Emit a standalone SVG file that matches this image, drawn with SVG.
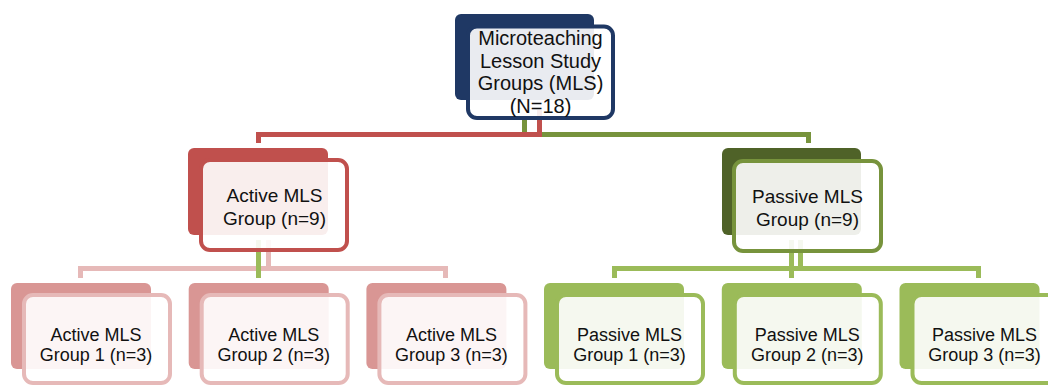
<svg xmlns="http://www.w3.org/2000/svg" width="1048" height="385" viewBox="0 0 1048 385">
<style>
.front{fill:#fff;fill-opacity:.9;stroke-width:4}
.conn path{fill:none;stroke-width:5}
text{font-family:"Liberation Sans",Arial,sans-serif;fill:#111;text-anchor:middle}
.t0{font-size:20px}
.t1{font-size:19px}
.t3{font-size:18px}
</style>
<rect width="1048" height="385" fill="#fff"/>
<g id="connectors" class="conn">
  <path d="M524.5 117V134.5H808.5V143" stroke="#77933c"/>
  <path d="M539.5 110V134.5H258.5V143" stroke="#c0504d"/>
  <path d="M80.5 278V268.5H445.5V278M268.5 240V268.5" stroke="#e6b9b8"/>
  <path d="M258.5 240V278" stroke="#9bbb59"/>
  <path d="M614.5 278V268.5H978.5V278M800.5 240V268.5M791.5 240V278" stroke="#9bbb59"/>
</g>
<g id="mls">
  <rect x="455" y="14" width="139" height="86" rx="6" fill="#1f3864"/>
  <rect class="front" x="468" y="26.5" width="145" height="91.5" rx="9" stroke="#1f3864"/>
  <text class="t0"><tspan x="540.5" y="45">Microteaching</tspan><tspan x="540.5" y="67.7">Lesson Study</tspan><tspan x="540.5" y="90.3">Groups (MLS)</tspan><tspan x="540.5" y="113">(N=18)</tspan></text>
</g>
<g id="active">
  <rect x="188" y="148" width="140" height="87" rx="6" fill="#c0504d"/>
  <rect class="front" x="201" y="160" width="146" height="90" rx="9" stroke="#c0504d"/>
  <text class="t1"><tspan x="274.5" y="202">Active MLS</tspan><tspan x="274.5" y="224.5">Group (n=9)</tspan></text>
</g>
<g id="passive">
  <rect x="722" y="148" width="139" height="87" rx="6" fill="#4f6228"/>
  <rect class="front" x="734" y="161" width="147" height="90" rx="9" stroke="#77933c"/>
  <text class="t1"><tspan x="807.5" y="203">Passive MLS</tspan><tspan x="807.5" y="225.5">Group (n=9)</tspan></text>
</g>
<g id="active1">
  <rect x="11" y="283" width="140" height="86" rx="6" fill="#d99694"/>
  <rect class="front" x="24" y="295" width="146" height="88" rx="9" stroke="#e6b9b8"/>
  <text class="t3"><tspan x="96" y="340.5">Active MLS</tspan><tspan x="96" y="361.2">Group 1 (n=3)</tspan></text>
</g>
<g id="active2">
  <rect x="188.7" y="283" width="140" height="86" rx="6" fill="#d99694"/>
  <rect class="front" x="201.7" y="295" width="146" height="88" rx="9" stroke="#e6b9b8"/>
  <text class="t3"><tspan x="273.7" y="340.5">Active MLS</tspan><tspan x="273.7" y="361.2">Group 2 (n=3)</tspan></text>
</g>
<g id="active3">
  <rect x="366.4" y="283" width="140" height="86" rx="6" fill="#d99694"/>
  <rect class="front" x="379.4" y="295" width="146" height="88" rx="9" stroke="#e6b9b8"/>
  <text class="t3"><tspan x="451.4" y="340.5">Active MLS</tspan><tspan x="451.4" y="361.2">Group 3 (n=3)</tspan></text>
</g>
<g id="passive1">
  <rect x="544" y="283" width="140" height="86" rx="6" fill="#9bbb59"/>
  <rect class="front" x="557" y="295" width="146" height="88" rx="9" stroke="#9bbb59"/>
  <text class="t3"><tspan x="629.5" y="340.5">Passive MLS</tspan><tspan x="629.5" y="361.2">Group 1 (n=3)</tspan></text>
</g>
<g id="passive2">
  <rect x="721.8" y="283" width="140" height="86" rx="6" fill="#9bbb59"/>
  <rect class="front" x="734.8" y="295" width="146" height="88" rx="9" stroke="#9bbb59"/>
  <text class="t3"><tspan x="807.3" y="340.5">Passive MLS</tspan><tspan x="807.3" y="361.2">Group 2 (n=3)</tspan></text>
</g>
<g id="passive3">
  <rect x="899.5" y="283" width="140" height="86" rx="6" fill="#9bbb59"/>
  <rect class="front" x="912.5" y="295" width="146" height="88" rx="9" stroke="#9bbb59"/>
  <text class="t3"><tspan x="984.5" y="340.5">Passive MLS</tspan><tspan x="984.5" y="361.2">Group 3 (n=3)</tspan></text>
</g>
</svg>
